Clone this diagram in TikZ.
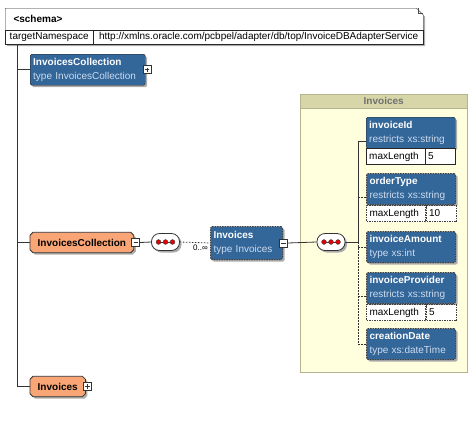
\documentclass[tikz,border=0pt]{standalone}
\usepackage{fontspec}
\setmainfont{Liberation Sans}
\usetikzlibrary{shapes.misc,shadows,positioning,calc}

\definecolor{elemblue}{RGB}{51,102,153}
\definecolor{elemsub}{RGB}{205,220,238}
\definecolor{globorange}{RGB}{250,165,118}
\definecolor{grpfill}{RGB}{255,255,222}
\definecolor{grphead}{RGB}{214,214,168}
\definecolor{grpline}{RGB}{180,180,142}
\definecolor{grptext}{RGB}{112,112,112}
\definecolor{shade}{RGB}{172,172,172}

\begin{document}
\begin{tikzpicture}[
  x=1pt,y=-1pt,
  font=\fontsize{10}{14}\selectfont,
  boxshadow/.style={drop shadow={shadow xshift=2pt,shadow yshift=-2pt,fill=shade,opacity=1}},
  wire/.style={draw=black!80,line width=0.8pt},
  optwire/.style={wire,dash pattern=on 1.5pt off 1.5pt},
  elem/.style={draw=black!85,fill=elemblue,text=white,rounded corners=1.5pt,boxshadow,
    anchor=north west,minimum width=89pt,minimum height=31pt,inner sep=3pt,
    align=left,text width=83pt},
  optelem/.style={elem,draw=black!75,dash pattern=on 1.5pt off 1pt,line width=1pt},
  facetkey/.style={draw=black!85,fill=white,anchor=north west,minimum width=59pt,
    minimum height=16pt,inner sep=0pt,align=left,text width=53pt},
  facetval/.style={facetkey,minimum width=30pt,text width=25pt},
  optfacetkey/.style={facetkey,draw=black!75,dash pattern=on 1.5pt off 1pt,line width=1pt},
  optfacetval/.style={facetval,draw=black!75,dash pattern=on 1.5pt off 1pt,line width=1pt},
  globelem/.style={rectangle,anchor=west,minimum height=20pt,inner xsep=7.5pt,inner ysep=0pt,
    font=\fontsize{10}{14}\selectfont\bfseries},
  globframe/.style={draw=black!80,fill=globorange,line width=0.8pt,boxshadow},
  globtext/.style={anchor=center,inner sep=0pt,font=\fontsize{10}{14}\selectfont\bfseries},
  expander/.style={rectangle,draw=black!80,fill=white,minimum size=8pt,inner sep=0pt,line width=0.6pt},
  minusbox/.style={expander,path picture={
    \draw[line width=0.7pt] ([xshift=1.8pt]path picture bounding box.west) -- ([xshift=-1.8pt]path picture bounding box.east);}},
  plusbox/.style={expander,path picture={
    \draw[line width=0.7pt] ([xshift=1.8pt]path picture bounding box.west) -- ([xshift=-1.8pt]path picture bounding box.east)
      ([yshift=-1.8pt]path picture bounding box.north) -- ([yshift=1.8pt]path picture bounding box.south);}},
  seqbox/.style={rectangle,rounded corners=8pt,draw=black!80,fill=white,line width=0.8pt,
    boxshadow,minimum width=28pt,minimum height=17pt,inner sep=0pt},
  seqdot/.style={draw=black!75,fill=red!90!black,line width=0.4pt},
  cell/.style={rectangle,draw=black!85,anchor=north west,minimum height=14pt,inner xsep=2pt,inner ysep=0pt}
]
  \useasboundingbox (0,0) rectangle (476,421);

  % schema header
  \node[chamfered rectangle,chamfered rectangle corners=north east,chamfered rectangle xsep=5pt,
    draw=black!85,fill=white,boxshadow,anchor=north west,minimum width=418pt,minimum height=36pt] (schema) at (5,8) {};
  \draw[black!70,line width=0.5pt] ($(schema.north -| schema.east)+(-5,0)$) -- ++(0,5) -- ++(5,0);
  \node[anchor=west,font=\fontsize{10}{14}\selectfont\bfseries] (schemaname) at (10,19) {<schema>};
  \node[cell,minimum width=88pt] (tnskey) at (5,30) {targetNamespace};
  \node[cell,minimum width=330pt] (tnsval) at (tnskey.north east) {http://xmlns.oracle.com/pcbpel/adapter/db/top/InvoiceDBAdapterService};

  % complex type group
  \node[rectangle,draw=grpline,fill=grpfill,anchor=north west,minimum width=167pt,minimum height=278pt] (grp) at (300,94) {};
  \node[rectangle,draw=grpline,fill=grphead,anchor=north west,minimum width=167pt,minimum height=14pt,inner sep=0pt,
    text=grptext,font=\fontsize{10}{14}\selectfont\bfseries] (grphead) at (grp.north west) {Invoices};

  % global elements
  \node[elem,text width=109pt] (collElem) at (30,54) {\textbf{InvoicesCollection}\\{\color{elemsub}type InvoicesCollection}};
  \node[plusbox] (collPlus) at ($(collElem.east)+(1.5,0)$) {};

  \node[globelem] (collRoot) at (30,242.5) {\phantom{InvoicesCollection}};
  \node[globelem] (rootInv) at (30,386.5) {\phantom{Invoices}};
  \foreach \g in {collRoot,rootInv}
    \draw[globframe] ([xshift=3pt]\g.north west) -- ([xshift=-3pt]\g.north east)
      -- ([yshift=-3pt]\g.north east) -- ([yshift=3pt]\g.south east)
      -- ([xshift=-3pt]\g.south east) -- ([xshift=3pt]\g.south west)
      -- ([yshift=3pt]\g.south west) -- ([yshift=-3pt]\g.north west) -- cycle;
  \node[globtext] (collRootText) at (collRoot.center) {InvoicesCollection};
  \node[globtext] (rootInvText) at (rootInv.center) {Invoices};
  \node[minusbox] (collMinus) at ($(collRoot.east)+(2,0)$) {};
  \node[plusbox] (rootPlus) at ($(rootInv.east)+(2,0)$) {};

  \coordinate (trunk) at (17,44);
  \draw[wire] (trunk) |- (rootInv.west);
  \draw[wire] (trunk |- collElem.west) -- (collElem.west);
  \draw[wire] (trunk |- collRoot.west) -- (collRoot.west);

  % sequence and local element
  \node[seqbox] (seqA) at (165.5,242) {};
  \node[optelem,text width=66pt,minimum width=72pt,minimum height=33pt] (invLocal) at (210,226)
    {\textbf{Invoices}\\{\color{elemsub}type Invoices}};
  \node[minusbox] (invMinus) at ($(invLocal.east)+(0.5,0)$) {};
  \node[seqbox] (seqB) at (331,242) {};

  \foreach \s in {seqA,seqB}{
    \draw[black!80,line width=0.6pt] ([xshift=-7pt]\s.center) -- ([xshift=7pt]\s.center);
    \foreach \dx in {-7,0,7}
      \filldraw[seqdot] ([xshift=\dx pt]\s.center) circle (2.4pt);
  }

  \draw[wire] (collMinus.east) -- (seqA.west);
  \draw[optwire] (seqA.east) -- (invLocal.west);
  \node[anchor=north east,inner sep=0pt,font=\fontsize{8}{9}\selectfont] (occurs) at ($(invLocal.west)+(-2,2)$) {0..∞};
  \draw[wire] (invMinus.east) -- (seqB.west);

  % children of Invoices
  \node[elem] (invoiceId) at (366,117) {\textbf{invoiceId}\\{\color{elemsub}restricts xs:string}};
  \node[facetkey] (invoiceIdKey) at (invoiceId.south west) {maxLength};
  \node[facetval] (invoiceIdVal) at (invoiceIdKey.north east) {5};

  \node[optelem] (orderType) at (366,173) {\textbf{orderType}\\{\color{elemsub}restricts xs:string}};
  \node[optfacetkey] (orderTypeKey) at (orderType.south west) {maxLength};
  \node[optfacetval] (orderTypeVal) at (orderTypeKey.north east) {10};

  \node[optelem] (invoiceAmount) at (366,231) {\textbf{invoiceAmount}\\{\color{elemsub}type xs:int}};

  \node[optelem] (invoiceProvider) at (366,272) {\textbf{invoiceProvider}\\{\color{elemsub}restricts xs:string}};
  \node[optfacetkey] (invoiceProviderKey) at (invoiceProvider.south west) {maxLength};
  \node[optfacetval] (invoiceProviderVal) at (invoiceProviderKey.north east) {5};

  \node[optelem] (creationDate) at (366,328) {\textbf{creationDate}\\{\color{elemsub}type xs:dateTime}};

  \coordinate (invoiceIdIn) at ($(invoiceId.north west)!0.5!(invoiceIdKey.south west)$);
  \coordinate (orderTypeIn) at ($(orderType.north west)!0.5!(orderTypeKey.south west)$);
  \coordinate (invoiceAmountIn) at (invoiceAmount.west);
  \coordinate (invoiceProviderIn) at ($(invoiceProvider.north west)!0.5!(invoiceProviderKey.south west)$);
  \coordinate (creationDateIn) at (creationDate.west);

  \coordinate (fork) at ($(seqB.east)+(13,0)$);
  \draw[wire] (seqB.east) -- (fork) |- (invoiceIdIn);
  \draw[optwire] (fork) |- (creationDateIn);
  \draw[optwire] (orderTypeIn -| fork) -- (orderTypeIn);
  \draw[optwire] (invoiceAmountIn -| fork) -- (invoiceAmountIn);
  \draw[optwire] (invoiceProviderIn -| fork) -- (invoiceProviderIn);
\end{tikzpicture}
\end{document}
